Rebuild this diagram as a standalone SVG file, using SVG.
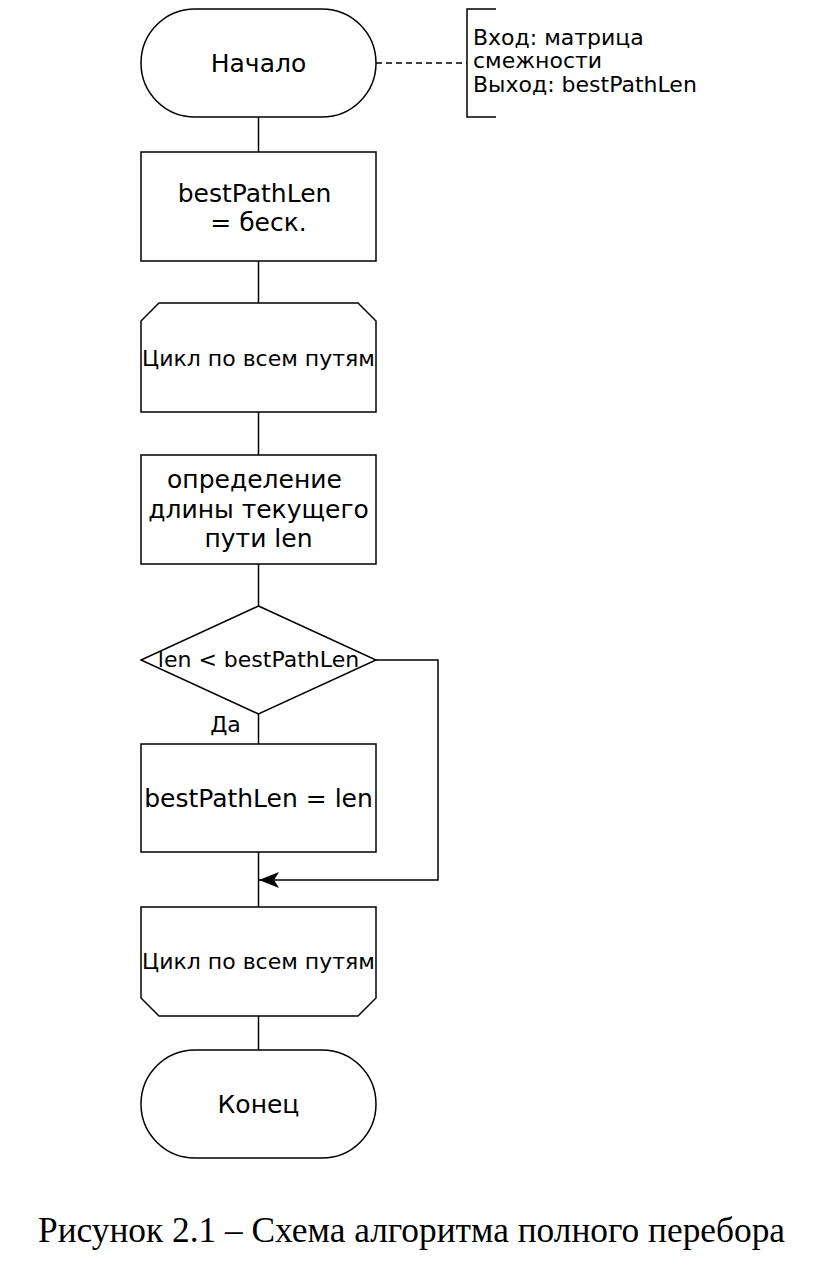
<svg xmlns="http://www.w3.org/2000/svg" width="826" height="1262" viewBox="0 0 826 1262">
<style>
.s{fill:#fff;stroke:#000;stroke-width:1.5}
.c{fill:none;stroke:#000;stroke-width:1.5}
.t{font-family:"DejaVu Sans",sans-serif;fill:#000;text-anchor:middle}
.n{font-family:"DejaVu Sans",sans-serif;fill:#000;font-size:22px}
.l{font-size:25px}
.m{font-size:22px}
</style>
<defs>
<marker id="ar" markerWidth="22" markerHeight="18" refX="20" refY="8" orient="auto" markerUnits="userSpaceOnUse">
<path d="M0,0 L20,8 L0,16 L5,8 Z" fill="#000"/>
</marker>
</defs>
<rect width="826" height="1262" fill="#fff"/>
<g id="connectors">
<line class="c" x1="258.5" y1="117" x2="258.5" y2="152"/>
<line class="c" x1="258.5" y1="261" x2="258.5" y2="303"/>
<line class="c" x1="258.5" y1="412" x2="258.5" y2="455"/>
<line class="c" x1="258.5" y1="564" x2="258.5" y2="606"/>
<line class="c" x1="258.5" y1="714" x2="258.5" y2="744"/>
<line class="c" x1="258.5" y1="852" x2="258.5" y2="907"/>
<line class="c" x1="258.5" y1="1016" x2="258.5" y2="1050"/>
<polyline class="c" points="376,660 438,660 438,880 259,880" marker-end="url(#ar)"/>
<line class="c" x1="376" y1="63" x2="467" y2="63" stroke-dasharray="6,4"/>
<text class="t m" x="225.5" y="732">Да</text>
</g>
<g id="start">
<rect class="s" x="141" y="9" width="235" height="108" rx="54" ry="54"/>
<text class="t l" x="258.5" y="72">Начало</text>
</g>
<g id="note">
<polyline class="c" points="496,9 467,9 467,117 496,117"/>
<text class="n" x="473" y="45">Вход: матрица</text>
<text class="n" x="473" y="68">смежности</text>
<text class="n" x="473" y="92">Выход: bestPathLen</text>
</g>
<g id="init">
<rect class="s" x="141" y="152" width="235" height="109"/>
<text class="t l" x="254.5" y="202">bestPathLen</text>
<text class="t l" x="258.5" y="231">= беск.</text>
</g>
<g id="loopStart">
<path class="s" d="M159,303 L358,303 L376,321 L376,412 L141,412 L141,321 Z"/>
<text class="t m" x="258.5" y="366">Цикл по всем путям</text>
</g>
<g id="calc">
<rect class="s" x="141" y="455" width="235" height="109"/>
<text class="t l" x="254.5" y="488">определение</text>
<text class="t l" x="258.5" y="518">длины текущего</text>
<text class="t l" x="258.5" y="547">пути len</text>
</g>
<g id="cond">
<path class="s" d="M258.5,606 L376,660 L258.5,714 L141,660 Z"/>
<text class="t m" x="258.5" y="667">len &lt; bestPathLen</text>
</g>
<g id="assign">
<rect class="s" x="141" y="744" width="235" height="108"/>
<text class="t l" x="258.5" y="807">bestPathLen = len</text>
</g>
<g id="loopEnd">
<path class="s" d="M141,907 L376,907 L376,998 L358,1016 L159,1016 L141,998 Z"/>
<text class="t m" x="258.5" y="969">Цикл по всем путям</text>
</g>
<g id="end">
<rect class="s" x="141" y="1050" width="235" height="108" rx="54" ry="54"/>
<text class="t l" x="258.5" y="1113">Конец</text>
</g>
<text x="38" y="1242" textLength="747" lengthAdjust="spacingAndGlyphs" style="font-family:'Liberation Serif',serif;font-size:35px">Рисунок 2.1 – Схема алгоритма полного перебора</text>
</svg>
